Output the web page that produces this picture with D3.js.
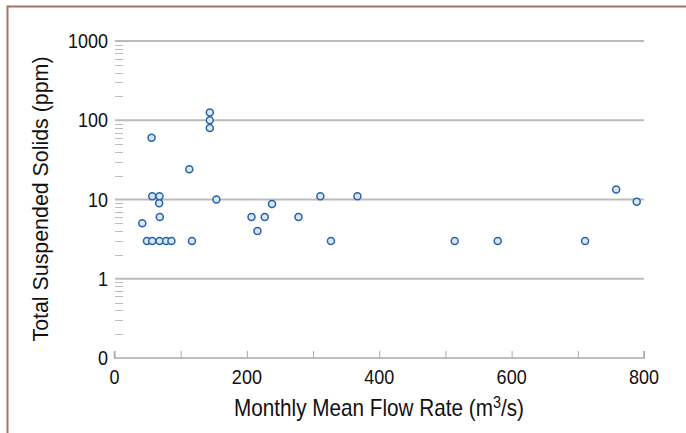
<!DOCTYPE html>
<meta charset="utf-8">
<style>
body { margin: 0; background: #fff; }
text { font-family: "Liberation Sans", Arial, sans-serif; fill: #111; }
.dot { fill: #dce5f2; stroke: #2464aa; stroke-width: 1.5px; }
</style>
<body>
<script src="https://d3js.org/d3.v7.min.js"></script>
<script>

// flow rate (m3/s) and total suspended solids (ppm)
var flow = [42, 49, 57, 68, 78, 86, 56, 57, 68, 67.5, 68.4, 113, 117,
            144, 144, 144, 154, 207, 216, 227, 238, 278, 311, 327, 367,
            514, 579, 711, 758, 789];
var tss  = [5, 3, 3, 3, 3, 3, 60, 11, 11, 9, 6, 24, 3,
            125, 100, 80, 10, 6, 4, 6, 8.8, 6, 11, 3, 11,
            3, 3, 3, 13.4, 9.4];

var yTicks = [0.1, 1, 10, 100, 1000];
var yTickLabels = ["0", "1", "10", "100", "1000"];
var xTicks = [0, 100, 200, 300, 400, 500, 600, 700, 800];
var xTickLabels = [0, 200, 400, 600, 800];

var width = 686, height = 433;

var x = d3.scaleLinear().domain([0, 800]).range([114.5, 644]);
var y = d3.scaleLog().domain([0.1, 1000]).range([358, 41]);

var svg = d3.select("body").append("svg")
    .attr("width", width)
    .attr("height", height);

// frame
svg.append("path")
    .attr("d", "M7.5,433 V6.5 H686")
    .attr("fill", "none")
    .attr("stroke", "#a07666")
    .attr("stroke-width", 2);

// minor ticks on y (2..9 within each decade)
var minor = [];
yTicks.slice(0, -1).forEach(function(d) {
  for (var k = 2; k <= 9; k++) minor.push(d * k);
});
svg.selectAll(".minor").data(minor).enter().append("line")
    .attr("x1", 115).attr("x2", 123)
    .attr("y1", function(d) { return Math.round(y(d)) + 0.5; })
    .attr("y2", function(d) { return Math.round(y(d)) + 0.5; })
    .attr("stroke", "#bdbdbd").attr("stroke-width", 1);

// major gridlines
svg.selectAll(".grid").data(yTicks.slice(1)).enter().append("line")
    .attr("x1", 115).attr("x2", x(800))
    .attr("y1", function(d) { return y(d); })
    .attr("y2", function(d) { return y(d); })
    .attr("stroke", "#bbbbbb").attr("stroke-width", 2);

// y tick labels
svg.selectAll(".ylab").data(yTicks).enter().append("text")
    .attr("transform", function(d) { return "translate(108," + (y(d) + 7) + ") scale(0.9,1)"; })
    .attr("text-anchor", "end")
    .attr("font-size", "20px")
    .text(function(d, i) { return yTickLabels[i]; });

// x axis
var xAxis = svg.append("g")
    .attr("transform", "translate(0," + y(0.1) + ")")
    .call(d3.axisTop(x).tickValues(xTicks).tickSize(7).tickFormat(""));
xAxis.select(".domain").attr("stroke", "#aaaaaa").attr("stroke-width", 1.5)
    .attr("d", "M" + x(0) + ",-7V0H" + x(800) + "V-7");
xAxis.selectAll(".tick line").attr("stroke", "#aaaaaa");

svg.selectAll(".xlab").data(xTickLabels).enter().append("text")
    .attr("transform", function(d) { return "translate(" + x(d) + ",384) scale(0.9,1)"; })
    .attr("text-anchor", "middle")
    .attr("font-size", "20px")
    .text(function(d) { return d; });

// axis titles
var xt = svg.append("text")
    .attr("transform", "translate(379,416) scale(0.9,1)")
    .attr("text-anchor", "middle")
    .attr("font-size", "23px");
xt.append("tspan").text("Monthly Mean Flow Rate (m");
xt.append("tspan").attr("dy", -8).attr("font-size", "16px").text("3");
xt.append("tspan").attr("dy", 8).text("/s)");

svg.append("text")
    .attr("transform", "translate(48,199) rotate(-90) scale(0.93,1)")
    .attr("text-anchor", "middle")
    .attr("font-size", "23px")
    .text("Total Suspended Solids (ppm)");

// points
svg.selectAll(".dot").data(flow).enter().append("circle")
    .attr("class", "dot")
    .attr("cx", function(d) { return x(d); })
    .attr("cy", function(d, i) { return y(tss[i]); })
    .attr("r", 3.5);

</script>
</body>
